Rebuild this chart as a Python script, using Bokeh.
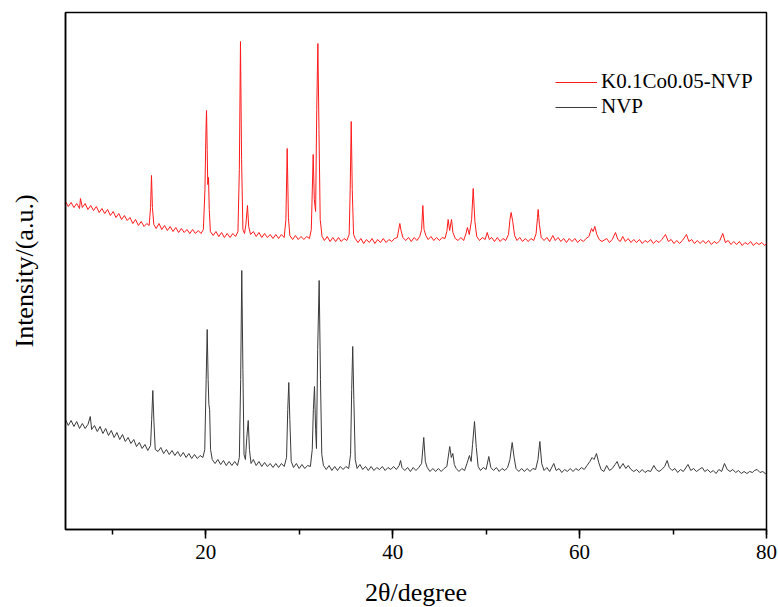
from bokeh.plotting import figure
from bokeh.models import Range1d, SingleIntervalTicker, FixedTicker, Legend, LegendItem
from bokeh.embed import file_html
from bokeh.resources import INLINE

# ---------------- data (2theta in degrees, intensity in arbitrary units) ----------------
series_names = ["K0.1Co0.05-NVP", "NVP"]
series_colors = ["#ff1a1a", "#3a3a3a"]
x_limits = [5, 80]
y_limits = [0, 517]

# K0.1Co0.05-NVP pattern: (2theta, intensity)
k_co_nvp = [
    (5.0, 328), (5.3, 323), (5.6, 327), (5.9, 322), (6.2, 326), (6.5, 321), (6.6, 331), (6.8, 322),
    (7.1, 326), (7.4, 320), (7.7, 324), (8.0, 319), (8.3, 323), (8.6, 317), (8.9, 321), (9.2, 316),
    (9.5, 320), (9.8, 314), (10.1, 318), (10.4, 312), (10.7, 316), (11.0, 310), (11.3, 314), (11.6, 309),
    (11.9, 312), (12.2, 306), (12.5, 310), (12.8, 304), (13.1, 308), (13.4, 303), (13.7, 306), (13.95, 304),
    (14.1, 322), (14.2, 354), (14.3, 322), (14.45, 305), (14.7, 301), (15.0, 306), (15.3, 300), (15.6, 304),
    (15.9, 299), (16.2, 303), (16.5, 298), (16.8, 302), (17.1, 297), (17.4, 301), (17.7, 297), (18.0, 300),
    (18.3, 296), (18.6, 300), (18.9, 296), (19.2, 299), (19.5, 296), (19.75, 300), (19.92, 340), (20.03, 400),
    (20.09, 419), (20.16, 380), (20.22, 345), (20.3, 352), (20.38, 320), (20.5, 298), (20.8, 294), (21.1, 298),
    (21.4, 293), (21.7, 297), (22.0, 292), (22.3, 296), (22.6, 292), (22.9, 296), (23.2, 293), (23.45, 298),
    (23.6, 360), (23.72, 488), (23.84, 370), (23.98, 300), (24.15, 296), (24.3, 305), (24.47, 324), (24.6, 303),
    (24.8, 295), (25.1, 298), (25.4, 293), (25.7, 297), (26.0, 292), (26.3, 296), (26.6, 292), (26.9, 295),
    (27.2, 291), (27.5, 295), (27.8, 291), (28.1, 295), (28.4, 292), (28.58, 310), (28.72, 381), (28.85, 312),
    (29.0, 294), (29.3, 290), (29.6, 294), (29.9, 290), (30.2, 293), (30.5, 290), (30.8, 293), (31.1, 291),
    (31.3, 300), (31.5, 375), (31.62, 330), (31.76, 318), (31.88, 420), (32.0, 486), (32.12, 400), (32.25, 310),
    (32.45, 293), (32.7, 289), (33.0, 293), (33.3, 288), (33.6, 292), (33.9, 288), (34.2, 292), (34.5, 288),
    (34.8, 291), (35.1, 289), (35.35, 295), (35.46, 340), (35.57, 408), (35.68, 340), (35.82, 295), (36.0, 291),
    (36.3, 287), (36.6, 291), (36.9, 286), (37.2, 290), (37.5, 287), (37.8, 291), (38.1, 286), (38.4, 290),
    (38.7, 287), (39.0, 291), (39.3, 287), (39.6, 290), (39.9, 288), (40.2, 291), (40.5, 292), (40.65, 300),
    (40.77, 306), (40.9, 299), (41.1, 292), (41.4, 289), (41.7, 292), (42.0, 288), (42.3, 292), (42.6, 289),
    (42.9, 293), (43.1, 300), (43.23, 324), (43.36, 300), (43.55, 294), (43.8, 290), (44.1, 293), (44.4, 289),
    (44.7, 292), (45.0, 289), (45.3, 292), (45.6, 291), (45.8, 298), (45.94, 310), (46.1, 299), (46.3, 310),
    (46.45, 297), (46.7, 291), (47.0, 289), (47.3, 292), (47.6, 289), (47.85, 296), (48.0, 302), (48.2, 295),
    (48.45, 310), (48.62, 341), (48.8, 308), (49.0, 293), (49.3, 289), (49.6, 292), (49.9, 290), (50.12, 297),
    (50.35, 290), (50.6, 292), (50.9, 288), (51.2, 292), (51.5, 288), (51.8, 291), (52.1, 289), (52.4, 295),
    (52.55, 310), (52.68, 317), (52.85, 308), (53.05, 294), (53.3, 289), (53.6, 292), (53.9, 288), (54.2, 291),
    (54.5, 288), (54.8, 291), (55.1, 289), (55.35, 296), (55.5, 312), (55.57, 320), (55.7, 305), (55.9, 292),
    (56.2, 289), (56.5, 292), (56.8, 288), (57.14, 294), (57.4, 289), (57.7, 292), (58.0, 288), (58.3, 291),
    (58.6, 287), (58.9, 291), (59.2, 288), (59.5, 291), (59.8, 287), (60.1, 290), (60.4, 288), (60.7, 291),
    (61.0, 293), (61.28, 301), (61.45, 298), (61.63, 303), (61.85, 295), (62.1, 290), (62.4, 288), (62.9, 291),
    (63.2, 287), (63.5, 290), (63.84, 297), (64.1, 290), (64.35, 288), (64.62, 293), (64.9, 288), (65.2, 291),
    (65.5, 287), (65.8, 290), (66.1, 287), (66.4, 290), (66.7, 286), (67.0, 289), (67.3, 287), (67.6, 290),
    (67.9, 286), (68.2, 289), (68.5, 287), (68.8, 290), (69.19, 295), (69.5, 288), (69.8, 290), (70.1, 286),
    (70.4, 289), (70.7, 286), (71.0, 289), (71.44, 295), (71.7, 288), (72.0, 290), (72.3, 286), (72.6, 289),
    (72.9, 286), (73.2, 289), (73.5, 286), (73.8, 289), (74.1, 285), (74.4, 288), (74.7, 286), (75.0, 289),
    (75.32, 296), (75.6, 287), (75.9, 289), (76.2, 285), (76.5, 288), (76.8, 285), (77.1, 288), (77.4, 284),
    (77.7, 287), (78.0, 285), (78.3, 288), (78.6, 284), (78.9, 287), (79.2, 285), (79.5, 287), (79.8, 284),
    (80.0, 286),
]

# NVP pattern: (2theta, intensity)
nvp = [
    (5.0, 110), (5.3, 104), (5.6, 109), (5.9, 103), (6.2, 108), (6.5, 101), (6.8, 106), (7.1, 101),
    (7.4, 105), (7.65, 113), (7.8, 100), (8.1, 104), (8.4, 98), (8.7, 103), (9.0, 96), (9.3, 101),
    (9.6, 94), (9.9, 99), (10.2, 92), (10.5, 97), (10.8, 90), (11.1, 95), (11.4, 88), (11.7, 92),
    (12.0, 86), (12.3, 90), (12.6, 83), (12.9, 87), (13.2, 81), (13.5, 85), (13.8, 79), (14.1, 84),
    (14.22, 110), (14.34, 139), (14.46, 108), (14.6, 80), (14.9, 78), (15.2, 82), (15.5, 76), (15.8, 80),
    (16.1, 75), (16.4, 79), (16.7, 74), (17.0, 78), (17.3, 73), (17.6, 77), (17.9, 72), (18.2, 76),
    (18.5, 71), (18.8, 75), (19.1, 71), (19.4, 74), (19.7, 72), (19.9, 80), (20.05, 150), (20.16, 200),
    (20.26, 150), (20.34, 125), (20.42, 120), (20.52, 80), (20.7, 70), (21.0, 66), (21.3, 70), (21.6, 65),
    (21.9, 69), (22.2, 64), (22.5, 68), (22.8, 64), (23.1, 68), (23.4, 64), (23.6, 72), (23.74, 150),
    (23.86, 259), (23.98, 160), (24.1, 75), (24.25, 70), (24.4, 92), (24.55, 109), (24.68, 80), (24.85, 66),
    (25.1, 70), (25.4, 64), (25.7, 68), (26.0, 63), (26.3, 67), (26.6, 63), (26.9, 66), (27.2, 62),
    (27.5, 66), (27.8, 62), (28.1, 66), (28.4, 63), (28.65, 72), (28.78, 120), (28.89, 147), (29.0, 110),
    (29.15, 68), (29.4, 62), (29.7, 66), (30.0, 61), (30.3, 65), (30.6, 61), (30.9, 64), (31.2, 63),
    (31.4, 80), (31.52, 120), (31.64, 143), (31.76, 100), (31.85, 81), (31.98, 180), (32.14, 249), (32.28, 150),
    (32.42, 75), (32.6, 64), (32.9, 60), (33.2, 64), (33.5, 59), (33.8, 63), (34.1, 59), (34.4, 63),
    (34.7, 60), (35.0, 63), (35.3, 61), (35.5, 75), (35.62, 140), (35.73, 183), (35.85, 130), (36.0, 70),
    (36.2, 61), (36.5, 65), (36.8, 60), (37.1, 63), (37.4, 59), (37.7, 63), (38.0, 59), (38.3, 62),
    (38.6, 60), (38.9, 63), (39.2, 59), (39.5, 62), (39.8, 60), (40.1, 63), (40.4, 60), (40.7, 64),
    (40.85, 69), (41.0, 62), (41.3, 59), (41.6, 62), (41.9, 58), (42.2, 62), (42.5, 59), (42.8, 62),
    (43.1, 66), (43.33, 92), (43.5, 68), (43.7, 62), (44.0, 58), (44.3, 61), (44.6, 58), (44.9, 61),
    (45.2, 58), (45.5, 61), (45.8, 63), (46.11, 83), (46.28, 72), (46.44, 76), (46.6, 65), (46.8, 61),
    (47.1, 58), (47.4, 61), (47.7, 59), (47.95, 66), (48.22, 74), (48.4, 68), (48.55, 85), (48.76, 108),
    (48.95, 82), (49.15, 63), (49.4, 59), (49.7, 62), (50.0, 60), (50.29, 73), (50.5, 62), (50.8, 59),
    (51.1, 62), (51.4, 58), (51.7, 61), (52.0, 59), (52.3, 62), (52.55, 70), (52.79, 87), (53.0, 72),
    (53.2, 61), (53.5, 58), (53.8, 61), (54.1, 58), (54.4, 61), (54.7, 58), (55.0, 61), (55.3, 60),
    (55.55, 70), (55.75, 88), (55.95, 66), (56.2, 59), (56.5, 62), (56.8, 58), (57.24, 66), (57.5, 59),
    (57.8, 61), (58.1, 57), (58.4, 60), (58.7, 58), (59.0, 61), (59.3, 58), (59.6, 61), (59.9, 59),
    (60.2, 62), (60.5, 60), (60.8, 64), (61.1, 68), (61.34, 72), (61.55, 70), (61.81, 76), (62.05, 67),
    (62.3, 60), (62.6, 58), (62.9, 64), (63.2, 59), (63.5, 61), (63.8, 65), (64.02, 68), (64.3, 61),
    (64.65, 66), (64.95, 61), (65.2, 64), (65.5, 60), (65.8, 58), (66.1, 60), (66.4, 57), (66.7, 60),
    (67.0, 57), (67.3, 59), (67.6, 58), (67.95, 64), (68.2, 60), (68.5, 58), (68.8, 60), (69.1, 63),
    (69.37, 69), (69.6, 62), (69.9, 59), (70.2, 61), (70.5, 57), (70.8, 60), (71.1, 58), (71.6, 65),
    (71.9, 59), (72.2, 61), (72.5, 58), (72.8, 60), (73.12, 62), (73.4, 58), (73.7, 60), (74.0, 57),
    (74.3, 59), (74.6, 56), (74.9, 60), (75.2, 58), (75.5, 66), (75.8, 60), (76.1, 58), (76.4, 60),
    (76.7, 57), (77.0, 59), (77.3, 56), (77.6, 58), (77.9, 56), (78.2, 58), (78.5, 57), (78.7, 59),
    (79.0, 60), (79.3, 57), (79.6, 58), (80.0, 55),
]

kx = [pt[0] for pt in k_co_nvp]
ky = [pt[1] for pt in k_co_nvp]
nx = [pt[0] for pt in nvp]
ny = [pt[1] for pt in nvp]

FONT = "Times New Roman"

p = figure(
    frame_width=701, frame_height=517,
    x_range=Range1d(*x_limits), y_range=Range1d(*y_limits),
    output_backend="svg", toolbar_location=None,
    min_border_left=65, min_border_right=12, min_border_top=12, min_border_bottom=78,
)

r1 = p.line(kx, ky, line_color=series_colors[0], line_width=1)
r2 = p.line(nx, ny, line_color=series_colors[1], line_width=1)

p.xgrid.visible = False
p.ygrid.visible = False
p.outline_line_color = "black"
p.outline_line_width = 1.5
p.outline_line_alpha = 1.0

xa = p.xaxis[0]
xa.ticker = SingleIntervalTicker(interval=20, num_minor_ticks=2)
xa.axis_label = "2θ/degree"
xa.axis_label_text_font = FONT
xa.axis_label_text_font_size = "26px"
xa.axis_label_text_font_style = "normal"
xa.axis_label_text_color = "black"
xa.axis_label_standoff = 16
xa.major_label_text_font = FONT
xa.major_label_text_font_size = "21px"
xa.major_label_text_color = "black"
xa.major_label_standoff = 6
xa.major_tick_in = 0
xa.major_tick_out = 9
xa.minor_tick_in = 0
xa.minor_tick_out = 5
xa.axis_line_width = 1.5
xa.major_tick_line_width = 1.5
xa.minor_tick_line_width = 1.5
xa.axis_line_color = "black"
xa.major_tick_line_color = "black"
xa.minor_tick_line_color = "black"

ya = p.yaxis[0]
ya.ticker = FixedTicker(ticks=[])
ya.major_tick_line_color = None
ya.minor_tick_line_color = None
ya.major_label_text_font = FONT
ya.axis_label = "Intensity/(a.u.)"
ya.axis_label_text_font = FONT
ya.axis_label_text_font_size = "26px"
ya.axis_label_text_font_style = "normal"
ya.axis_label_text_color = "black"
ya.axis_label_standoff = 27
ya.axis_line_width = 1.5
ya.axis_line_color = "black"

legend = Legend(
    items=[LegendItem(label=series_names[0], renderers=[r1]),
           LegendItem(label=series_names[1], renderers=[r2])],
    location=(490, 410),
    border_line_alpha=0, background_fill_alpha=0,
    label_text_font=FONT, label_text_font_size="21px", label_text_color="black",
    glyph_width=42, glyph_height=24, label_height=24, label_standoff=4,
    spacing=0, padding=0, margin=0,
)
p.add_layout(legend, "center")

open("out.html", "w").write(file_html(p, INLINE))
